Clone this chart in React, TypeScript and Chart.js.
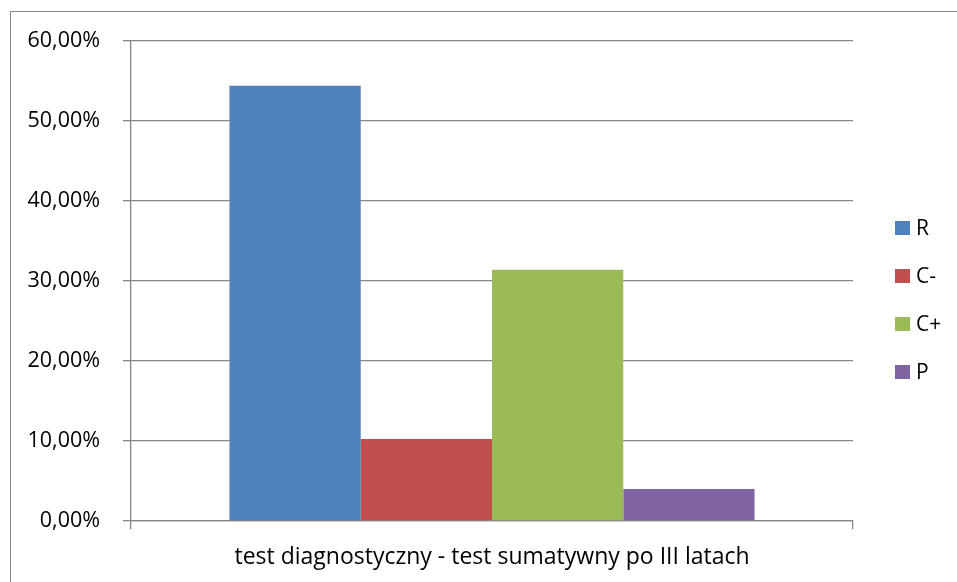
import React, { useEffect, useRef } from "react";
import { Chart, registerables } from "chart.js";

Chart.register(...registerables);

const categories = ["test diagnostyczny - test sumatywny po III latach"];
const seriesNames = ["R", "C-", "C+", "P"];
const seriesColors = ["#4F81BD", "#C0504D", "#9BBB59", "#8064A2"];
const valuesR = [0.544];
const valuesCMinus = [0.1025];
const valuesCPlus = [0.314];
const valuesP = [0.04];
const seriesValues = [valuesR, valuesCMinus, valuesCPlus, valuesP];
const yMin = 0;
const yMax = 0.6;
const yStep = 0.1;

const FONT = "'Open Sans', 'Liberation Sans', sans-serif";
const GRID = "#878787";

const legendPlugin = {
  id: "sideLegend",
  afterDraw(chart: any) {
    const ctx = chart.ctx;
    const area = chart.chartArea;
    const x0 = area.right + 42;
    const yStart = 228;
    const gap = 48;
    ctx.save();
    ctx.font = `21px ${FONT}`;
    ctx.textBaseline = "middle";
    ctx.textAlign = "left";
    chart.data.datasets.forEach((ds: any, i: number) => {
      const cy = yStart + i * gap;
      ctx.fillStyle = ds.backgroundColor;
      ctx.fillRect(x0, cy - 7, 15, 14);
      ctx.fillStyle = "#000";
      ctx.fillText(ds.label, x0 + 21, cy + 1);
    });
    ctx.restore();
  },
};

export default function App() {
  const ref = useRef<HTMLCanvasElement>(null);
  useEffect(() => {
    if (!ref.current) return;
    const chart = new Chart(ref.current, {
      type: "bar",
      data: {
        labels: categories,
        datasets: seriesNames.map((name, i) => ({
          label: name,
          data: seriesValues[i],
          backgroundColor: seriesColors[i],
          borderWidth: 0,
          categoryPercentage: 4 / 5.5,
          barPercentage: 1,
        })),
      },
      options: {
        animation: false,
        responsive: false,
        maintainAspectRatio: false,
        layout: { padding: { left: 0, top: 41, right: 104, bottom: 0 } },
        plugins: {
          legend: { display: false },
          tooltip: { enabled: false },
          title: { display: false },
        },
        scales: {
          x: {
            afterFit(scale: any) {
              scale.height = 61;
            },
            grid: {
              display: true,
              drawOnChartArea: false,
              drawTicks: true,
              tickLength: 8,
              offset: true,
              color: GRID,
              lineWidth: 1.3,
            },
            border: { display: true, color: GRID, width: 1.3 },
            ticks: {
              color: "#000",
              font: { family: FONT, size: 23 },
              padding: 15,
              maxRotation: 0,
            },
          },
          y: {
            min: yMin,
            max: yMax,
            afterFit(scale: any) {
              scale.width = 131;
            },
            grid: {
              color: GRID,
              lineWidth: 1.3,
              tickLength: 8,
            },
            border: { display: true, color: GRID, width: 1.3 },
            ticks: {
              stepSize: yStep,
              color: "#000",
              padding: 23,
              font: { family: FONT, size: 21.5 },
              callback: (v: any) => (Number(v) * 100).toFixed(2).replace(".", ",") + "%",
            },
          },
        },
      },
      plugins: [legendPlugin],
    });
    return () => chart.destroy();
  }, []);
  return (
    <div>
      <div
        style={{
          position: "absolute",
          left: 10,
          top: 11,
          width: 960,
          height: 600,
          borderLeft: "1.5px solid #878787",
          borderTop: "1.5px solid #878787",
          boxSizing: "border-box",
        }}
      />
      <div style={{ position: "absolute", left: 0, top: 0, width: 957, height: 582 }}>
        <canvas ref={ref} width={957} height={582} style={{ width: 957, height: 582 }} />
      </div>
    </div>
  );
}
